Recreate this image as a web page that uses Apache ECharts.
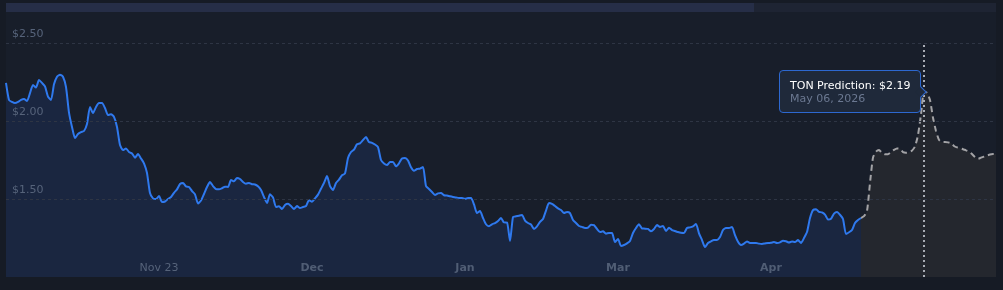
<!DOCTYPE html>
<html>
<head>
<meta charset="utf-8">
<style>
  html, body { margin: 0; padding: 0; background: #161b25; }
  #chart { width: 1003px; height: 290px; }
</style>
<script src="https://cdn.jsdelivr.net/npm/echarts@6/dist/echarts.min.js"></script>
</head>
<body>
<div id="chart"></div>
<script>
// ---- data ----
const history = [
2.244,2.135,2.122,2.115,2.122,2.135,2.141,2.128,2.179,2.231,
2.215,2.263,2.244,2.222,2.156,2.135,2.235,2.284,2.297,2.284,
2.218,2.054,1.962,1.891,1.917,1.929,1.936,1.981,2.09,2.051,
2.09,2.115,2.115,2.083,2.038,2.043,2.026,1.962,1.846,1.814,
1.824,1.801,1.792,1.765,1.788,1.76,1.729,1.667,1.538,1.504,
1.5,1.519,1.481,1.484,1.5,1.513,1.54,1.562,1.596,1.603,
1.581,1.577,1.551,1.53,1.471,1.49,1.532,1.577,1.609,1.583,
1.564,1.562,1.569,1.579,1.577,1.622,1.613,1.635,1.628,1.609,
1.598,1.603,1.595,1.593,1.581,1.558,1.513,1.474,1.53,1.51,
1.449,1.453,1.436,1.462,1.469,1.455,1.436,1.455,1.442,1.449,
1.455,1.492,1.483,1.504,1.528,1.566,1.603,1.647,1.583,1.558,
1.603,1.624,1.652,1.664,1.763,1.801,1.817,1.851,1.857,1.878,
1.897,1.865,1.86,1.849,1.833,1.75,1.728,1.718,1.737,1.737,
1.71,1.729,1.76,1.763,1.747,1.703,1.681,1.692,1.695,1.705,
1.583,1.564,1.545,1.526,1.536,1.538,1.524,1.522,1.517,1.513,
1.51,1.506,1.506,1.501,1.506,1.506,1.465,1.41,1.423,1.378,
1.338,1.325,1.338,1.346,1.359,1.378,1.35,1.349,1.231,1.385,
1.389,1.393,1.397,1.362,1.346,1.337,1.308,1.325,1.353,1.372,
1.426,1.474,1.469,1.455,1.44,1.429,1.41,1.417,1.41,1.365,
1.346,1.327,1.321,1.314,1.317,1.335,1.333,1.308,1.288,1.293,
1.278,1.282,1.282,1.224,1.244,1.199,1.205,1.216,1.231,1.282,
1.314,1.338,1.311,1.31,1.308,1.293,1.308,1.333,1.321,1.327,
1.295,1.316,1.301,1.295,1.288,1.283,1.282,1.314,1.318,1.325,
1.34,1.28,1.237,1.192,1.218,1.229,1.237,1.237,1.256,1.301,
1.314,1.314,1.321,1.268,1.226,1.205,1.214,1.228,1.218,1.218,
1.218,1.214,1.212,1.215,1.218,1.219,1.224,1.218,1.222,1.233,
1.229,1.221,1.228,1.224,1.237,1.218,1.25,1.288,1.378,1.429,
1.434,1.418,1.414,1.4,1.369,1.374,1.406,1.417,1.399,1.372,
1.276,1.287,1.301,1.346,1.365,1.378
];
// prediction starts at the last history point
const prediction = [
1.378,1.39,1.423,1.603,1.765,1.803,1.814,1.795,1.787,1.787,
1.801,1.815,1.824,1.821,1.801,1.797,1.799,1.81,1.837,1.91,
2.043,2.19,2.18,2.135,2.021,1.936,1.879,1.865,1.865,1.863,
1.859,1.84,1.831,1.827,1.819,1.812,1.804,1.788,1.769,1.758,
1.765,1.772,1.779,1.785,1.788,1.788
];
const tickLabels = ['Nov 23', 'Dec', 'Jan', 'Mar', 'Apr'];
const tickIndices = [51, 102, 153, 204, 255];
const boldTicks = ['Dec', 'Jan', 'Mar', 'Apr'];
const yTicks = [1.0, 1.5, 2.0, 2.5];
const peakDate = 'May 06, 2026';
const predName = 'TON Prediction';

// ---- build ----
const predStart = history.length - 1;
const total = predStart + prediction.length;
const categories = [];
for (let i = 0; i < total; i++) {
  const k = tickIndices.indexOf(i);
  categories.push(k >= 0 ? tickLabels[k] : '');
}
const histData = categories.map((c, i) => (i < history.length ? history[i] : null));
const predData = categories.map((c, i) => (i >= predStart ? prediction[i - predStart] : null));
let peakIdx = predStart;
for (let i = 0; i < prediction.length; i++) {
  if (prediction[i] > predData[peakIdx]) peakIdx = predStart + i;
}

const chart = echarts.init(document.getElementById('chart'), null, { renderer: 'canvas' });
const FONT = 'DejaVu Sans';
chart.setOption({
  animation: false,
  backgroundColor: '#161b25',
  textStyle: { fontFamily: FONT },
  graphic: [
    { type: 'rect', silent: true, z: -10, shape: { x: 6, y: 12, width: 990, height: 265 }, style: { fill: '#181e2a' } },
    { type: 'rect', silent: true, shape: { x: 6, y: 3, width: 990, height: 9 }, style: { fill: '#1e2433' } },
    { type: 'rect', silent: true, shape: { x: 6, y: 3, width: 748, height: 9 }, style: { fill: '#262e47' } }
  ],
  grid: { left: 6, right: 7, top: 43, bottom: 13, containLabel: false },
  xAxis: {
    type: 'category',
    z: 10,
    data: categories,
    boundaryGap: false,
    axisLine: { show: false },
    axisTick: { show: false },
    splitLine: { show: false },
    axisLabel: {
      inside: true,
      interval: 0,
      margin: 3,
      fontSize: 11,
      fontFamily: FONT,
      color: '#56637a',
      formatter: function (v) {
        if (!v) return '';
        return boldTicks.indexOf(v) >= 0 ? '{b|' + v + '}' : v;
      },
      rich: { b: { fontWeight: 'bold', fontSize: 11, fontFamily: FONT, color: '#505d74' } }
    }
  },
  yAxis: {
    type: 'value',
    z: 10,
    min: yTicks[0],
    max: yTicks[yTicks.length - 1],
    interval: 0.5,
    axisLine: { show: false },
    axisTick: { show: false },
    axisLabel: {
      inside: true,
      margin: 6,
      fontSize: 11,
      fontFamily: FONT,
      color: '#56637a',
      verticalAlign: 'bottom',
      padding: [0, 0, 3, 0],
      formatter: function (v) { return v <= yTicks[0] ? '' : '$' + v.toFixed(2); }
    },
    splitLine: { show: true, showMinLine: false, lineStyle: { color: '#2e3544', type: [3, 3], width: 1 } }
  },
  tooltip: {
    trigger: 'axis',
    triggerOn: 'none',
    alwaysShowContent: true,
    transitionDuration: 0,
    backgroundColor: '#1f293a',
    borderColor: '#2d68d0',
    borderWidth: 1,
    padding: [8, 10, 7, 10],
    extraCssText: 'box-shadow:none;border-radius:4px;line-height:13px;',
    textStyle: { fontFamily: FONT, fontSize: 11, color: '#ffffff' },
    axisPointer: {
      type: 'line',
      triggerEmphasis: false,
      label: { show: false },
      lineStyle: { color: '#a9adb5', width: 2, type: [2, 3] }
    },
    position: function (point, params, dom, rect, size) {
      return [point[0] - size.contentSize[0] - 3, point[1] - size.contentSize[1] / 2];
    },
    formatter: function (params) {
      const p = params.find(q => q.seriesName === predName && q.value != null);
      if (!p) return '';
      return '<div style="position:relative;">' +
        '<div style="color:#fff;font-size:11px;">' + predName + ': $' + Number(p.value).toFixed(2) + '</div>' +
        '<div style="color:#6b7891;font-size:11px;">' + peakDate + '</div>' +
        '</div>' +
        '<div style="position:absolute;right:-5px;top:50%;width:7px;height:7px;margin-top:-4px;background:#1f293a;' +
        'border-top:1px solid #2d68d0;border-right:1px solid #2d68d0;transform:rotate(45deg);"></div>';
    }
  },
  series: [
    {
      name: 'TON Price',
      type: 'line',
      data: histData,
      symbol: 'none',
      showSymbol: false,
      smooth: 0.2,
      connectNulls: false,
      emphasis: { disabled: true },
      lineStyle: { color: '#2f79ee', width: 2 },
      areaStyle: { color: '#1a2640', opacity: 1, origin: 'start' },
      z: 3
    },
    {
      name: predName,
      type: 'line',
      data: predData,
      symbol: 'none',
      showSymbol: false,
      smooth: 0.2,
      emphasis: { disabled: true },
      lineStyle: { color: '#a3a3a6', width: 2, type: [6, 4] },
      areaStyle: { color: '#24272e', opacity: 1, origin: 'start' },
      z: 2
    }
  ]
});
chart.dispatchAction({ type: 'showTip', seriesIndex: 1, dataIndex: peakIdx });
</script>
</body>
</html>
